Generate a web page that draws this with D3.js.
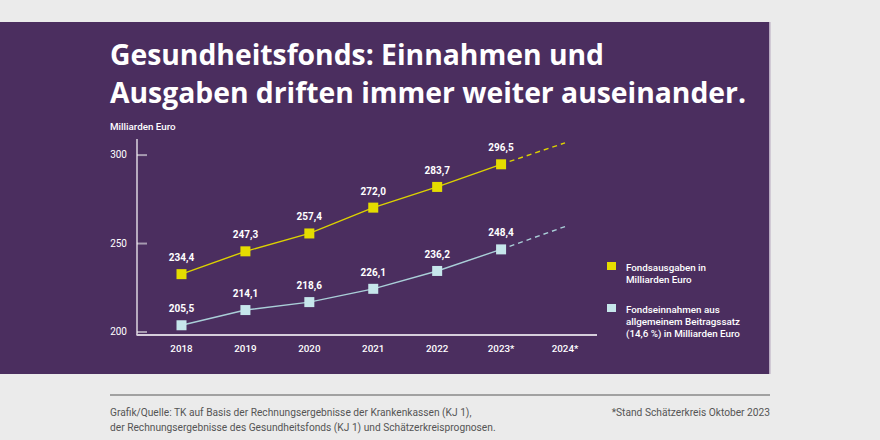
<!DOCTYPE html>
<html><head><meta charset="utf-8">
<script src="https://cdn.jsdelivr.net/npm/d3@7/dist/d3.min.js"></script>
<style>
html,body{margin:0;padding:0;background:#ebebeb;}
svg{display:block;font-family:Roboto, "Noto Sans", sans-serif;}
</style></head>
<body><svg id="c" width="880" height="440"></svg>
<script>
const years = [2018, 2019, 2020, 2021, 2022, 2023, 2024];
const yearLabels = ["2018", "2019", "2020", "2021", "2022", "2023*", "2024*"];
const ausgaben = [234.4, 247.3, 257.4, 272.0, 283.7, 296.5];
const einnahmen = [205.5, 214.1, 218.6, 226.1, 236.2, 248.4];
const ausgabenPrognose2024 = 308.6;
const einnahmenPrognose2024 = 261.3;
const yTicks = [200, 250, 300];
const titleLines = ["Gesundheitsfonds: Einnahmen und", "Ausgaben driften immer weiter auseinander."];
const legendItems = [
  {lines: ["Fondsausgaben in", "Milliarden Euro"], color: "#e5dc00"},
  {lines: ["Fondseinnahmen aus", "allgemeinem Beitragssatz", "(14,6 %) in Milliarden Euro"], color: "#c6e6eb"}
];
const footLeft = ["Grafik/Quelle: TK auf Basis der Rechnungsergebnisse der Krankenkassen (KJ 1),",
  "der Rechnungsergebnisse des Gesundheitsfonds (KJ 1) und Schätzerkreisprognosen."];
const footRight = "*Stand Schätzerkreis Oktober 2023";

const fmt = v => d3.format(".1f")(v).replace(".", ",");
const svg = d3.select("#c");
const purple = "#4b2e5f";

svg.append("rect").attr("x", 0).attr("y", 22).attr("width", 769).attr("height", 352).attr("fill", purple);
svg.append("rect").attr("x", 769).attr("y", 22).attr("width", 1.5).attr("height", 352).attr("fill", "#b7a9c0");

// title
titleLines.forEach((t, i) => {
  svg.append("text").attr("x", 110).attr("y", 65 + i * 37.5)
    .attr("fill", "#fff").attr("font-family", "'Open Sans', sans-serif").attr("font-weight", 700)
    .attr("font-size", 28).attr("textLength", i === 0 ? 494 : 636).attr("lengthAdjust", "spacingAndGlyphs")
    .text(t);
});

const x = d3.scaleLinear().domain([2018, 2024]).range([181.5, 565]);
const y = d3.scaleLinear().domain([200, 300]).range([335, 158.1]);

// y axis
const yAx = svg.append("g").attr("transform", "translate(137,-3.5)")
  .call(d3.axisLeft(y).tickValues(yTicks).tickSize(-10).tickPadding(10).tickFormat(d3.format("d")));
yAx.select(".domain").remove();
yAx.selectAll(".tick line").attr("stroke", "#a79bb0").attr("stroke-width", 2);
yAx.selectAll(".tick text").attr("fill", "#fff").attr("font-size", 10).attr("font-family", "Roboto").attr("x", -10);

svg.append("line").attr("x1", 137).attr("x2", 137).attr("y1", 139).attr("y2", 335).attr("stroke", "#f3eff5").attr("stroke-width", 1.3);
svg.append("line").attr("x1", 136.5).attr("x2", 597).attr("y1", 335).attr("y2", 335).attr("stroke", "#d6cedb").attr("stroke-width", 2);

svg.append("text").attr("x", 110).attr("y", 129.5).attr("fill", "#fff").attr("font-size", 9.8).attr("font-weight", 500).text("Milliarden Euro");

// x labels
svg.append("g").selectAll("text").data(years).join("text")
  .attr("x", d => x(d)).attr("y", 352).attr("text-anchor", "middle")
  .attr("fill", "#fff").attr("font-size", 9.8).attr("font-weight", 500)
  .text((d, i) => yearLabels[i]);

function series(vals, prog, lineColor, fill) {
  const pts = vals.map((v, i) => [years[i], v]);
  const line = d3.line().x(d => x(d[0])).y(d => y(d[1]));
  svg.append("path").attr("d", line(pts)).attr("fill", "none").attr("stroke", lineColor).attr("stroke-width", 1.4);
  svg.append("path").attr("d", line([pts[pts.length - 1], [years[6], prog]])).attr("fill", "none")
    .attr("stroke", lineColor).attr("stroke-width", 1.4).attr("stroke-dasharray", "5,4");
  svg.append("g").selectAll("rect").data(pts).join("rect")
    .attr("x", d => x(d[0]) - 5).attr("y", d => y(d[1]) - 5).attr("width", 10).attr("height", 10).attr("fill", fill);
  svg.append("g").selectAll("text").data(pts).join("text")
    .attr("x", d => x(d[0])).attr("y", d => y(d[1]) - 13).attr("text-anchor", "middle")
    .attr("fill", "#fff").attr("font-size", 10).attr("font-weight", 700).text(d => fmt(d[1]));
}
series(ausgaben, ausgabenPrognose2024, "#dcd200", "#e5dc00");
series(einnahmen, einnahmenPrognose2024, "#aacfd8", "#c6e6eb");

// legend
let ly = 262;
legendItems.forEach(it => {
  svg.append("rect").attr("x", 607).attr("y", ly).attr("width", 9).attr("height", 8).attr("fill", it.color);
  it.lines.forEach((l, j) => {
    svg.append("text").attr("x", 626).attr("y", ly + 9 + j * 12).attr("fill", "#fff")
      .attr("font-size", 9.8).attr("font-weight", 500).text(l);
  });
  ly += 42;
});

// footer
svg.append("line").attr("x1", 110).attr("x2", 770).attr("y1", 395).attr("y2", 395).attr("stroke", "#888").attr("stroke-width", 1.5);
footLeft.forEach((t, i) => {
  svg.append("text").attr("x", 110).attr("y", 416 + i * 14.5).attr("fill", "#555").attr("font-size", 10.2).text(t);
});
svg.append("text").attr("x", 770).attr("y", 416).attr("text-anchor", "end").attr("fill", "#555").attr("font-size", 10.2).text(footRight);
</script></body></html>
